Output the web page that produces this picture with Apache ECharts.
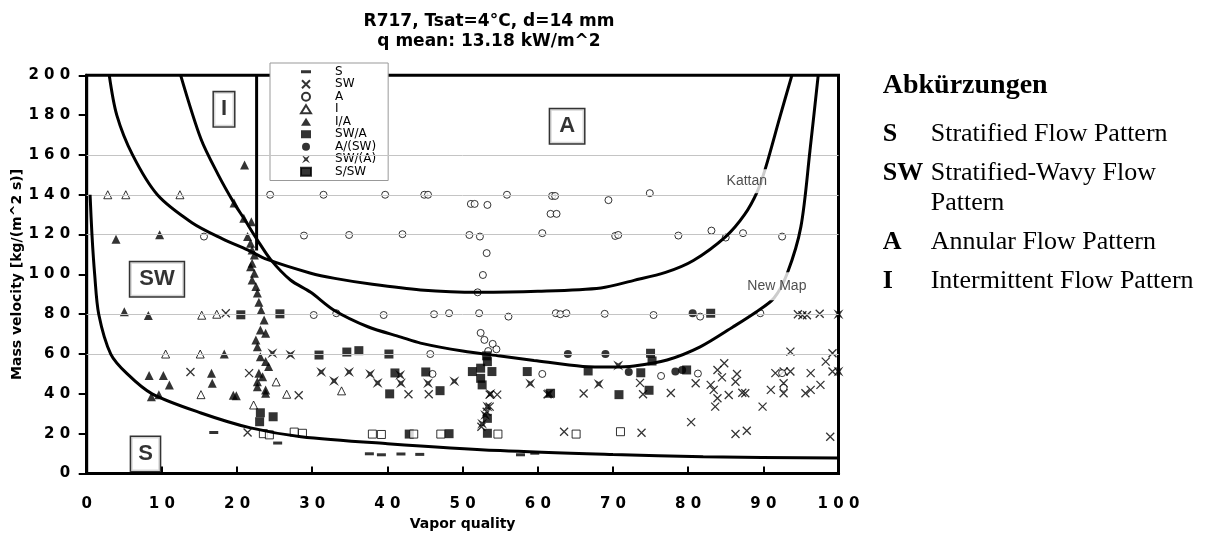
<!DOCTYPE html>
<html><head><meta charset="utf-8">
<script src="https://cdn.jsdelivr.net/npm/echarts@6/dist/echarts.min.js"></script>
<style>html,body{margin:0;padding:0;background:#fff}#c{width:1207px;height:534px}</style>
</head><body><div id="c"></div>
<script>
// ---------- data ----------
const seriesNames = ['S','SW','A','I','I/A','SW/A','A/(SW)','SW/(A)','S/SW'];

const sPts = [[16.9,20.6],[25.4,15.3],[37.6,9.9],[39.2,9.4],[41.8,9.8],[44.3,9.6],[57.7,9.4],[59.6,10.2]];

const swPts = [[18.5,80.5],[13.8,51],[21.6,50.4],[28.2,39.3],[42.8,39.8],[45.5,39.8],[53.6,39.6],[54.6,39.6],
  [53.6,33.6],[53.2,31],[52.5,23.5],[21.4,20.6],[61.3,39.8],[66.1,40.2],[63.5,21],[73.8,20.5],[74,39.8],
  [73.6,45.5],[77.7,40.4],[80.4,25.8],[81,45.3],[83.9,52],[84.8,55.4],[84.5,48.3],[83,44.5],[83.4,42],
  [83.9,37.8],[83.6,33.6],[85.4,39.4],[86.5,50],[86.3,46.1],[87.2,40.6],[87.6,40.3],[89.9,33.6],[91,42],
  [91.6,50.4],[92.7,51.2],[93.6,51.2],[92.7,45.3],[92.7,40.3],[95.6,40.3],[96.3,42],[96.3,50.4],[97.6,44.5],
  [98.3,56.2],[99.2,60.4],[99.2,51.2],[93.6,61.2],[86.3,19.8],[87.8,21.5],[98.9,18.5],[94.6,80],[95.2,79.5],
  [95.8,79.5],[97.5,80.2]];

const aPts = [[24.4,140],[31.5,140],[39.7,140],[44.9,140],[45.4,140],[55.9,140],[61.9,139.4],[62.3,139.4],
  [74.9,140.8],[69.4,137.3],[51.1,135.4],[51.6,135.4],[53.3,134.9],[61.7,130.4],[62.5,130.4],
  [15.6,119],[28.9,119.5],[34.9,119.8],[42,120.2],[50.9,119.8],[52.3,119],[60.6,120.7],[70.3,119.3],
  [70.7,119.8],[78.7,119.5],[83.1,122],[85,118.5],[87.3,120.7],[92.5,119],[53.2,110.7],[52.7,99.7],[52,91],
  [30.2,79.6],[33.2,80.5],[39.5,79.6],[46.2,80],[48.2,80.5],[52.2,80.5],[56.1,78.8],[62.4,80.5],[63,80],
  [63.8,80.5],[68.9,80.2],[75.4,79.6],[81.6,78.8],[89.6,80.5],
  [52.4,70.6],[52.9,67.1],[54,65.1],[54.5,62.4],[53.4,61.5],
  [45.7,60],[46,50],[60.6,50],[76.4,49],[81.3,50.2],[92.5,50.4],[92.7,43]];

const iPts = [[2.8,140],[5.2,140],[12.4,140],[15.3,79.5],[17.3,80],[10.5,60],[15.1,60],[25.2,46],
  [15.2,39.6],[26.6,39.8],[33.9,41.5],[22.2,34.4]];

const iaPts = [[21.0,155],[3.9,117.7],[9.7,119.9],[5.0,81.3],[8.2,79.3],[18.3,60],[8.3,49.2],[10.2,49.2],
  [11,44.5],[16.6,50.4],[16.7,45.3],[8.6,38.6],[9.6,39.6],[19.5,39.3],[19.9,39],[23.8,40.3],
  [19.6,135.8],[20.9,128.2],[21.9,126.5],[21.4,119],[21.8,115.7],[22.0,112.3],[22.3,109.8],[22.0,105.6],
  [21.8,103.9],[22.3,100.6],[22.0,97.2],[22.5,93.9],[22.7,90.6],[22.9,86],[23.2,82],[23.6,77.1],[23.1,72.1],
  [23.8,70.5],[22.5,67.1],[22.7,63.7],[23.1,58.7],[23.8,56.2],[24.2,53.7],[22.9,50.4],[23.4,48.6],[22.7,46.1],
  [22.7,43.6],[23.8,42]];

const swaPts = [[20.5,79.7],[25.7,80.2],[30.9,59.5],[34.6,61],[36.2,61.7],[40.2,60],[40.3,40],[23.1,30.5],
  [24.8,28.5],[23,26],[41,50.5],[45.1,51],[47,41.6],[51.3,51.2],[52.4,52.9],[53.9,51.2],[52.4,47.8],[52.6,44.5],
  [53.3,56.2],[53.2,59.1],[53.3,27.7],[53.3,20.2],[42.9,19.8],[48.2,20],[58.6,51.2],[61.7,40.3],[66.7,51.5],
  [70.8,39.6],[75,60.4],[75.2,56.5],[73.7,50.6],[74.8,41.8],[79.8,52],[83,80.5]];

const aswPts = [[64,60],[69,60],[72.1,51],[78.3,51.2],[79.2,52],[80.6,80.5]];

const swaBowPts = [[24.7,60.4],[27.1,59.7],[31.2,51],[32.9,46.5],[34.9,51],[37.7,50],[38.7,45.5],[41.7,49.5],
  [41.8,45.3],[45.4,45.3],[48.9,46.3],[59,45.2],[61.5,40],[68.1,45],[70.7,54.3],[100,80],[100,51.2],
  [53.7,40],[53.3,33.6],[52.6,25],[53,29.4]];

const sswPts = [[23.5,20],[24.3,19.4],[27.6,20.8],[28.7,20.2],[38,19.8],[39.2,19.6],[43.5,19.8],[47.1,19.8],
  [54.7,19.8],[65.1,19.8],[71.0,21]];

// transition curves
const stratCurve = [[0.45,140],[0.7,120],[1.06,100],[1.6,80],[3.2,60],[5.4,50],[8.7,40],[15.2,30.4],[21.8,22.9],
  [28.5,18.5],[40,15],[55,11.5],[70,9.5],[82,8.4],[100,7.8]];
const kattanCurve = [[3.0,200],[4.0,180],[6.1,160],[9.4,140],[14,126],[18,118],[21.4,112.3],[24,107.5],
  [29.8,100.6],[33,98],[38,95],[44.4,92.2],[52,91],[60,91.5],[68.4,93.2],[72.8,97],[77,101],[80.7,107],
  [85,119],[87.5,130],[89.2,141.6],[90.3,153.5],[92.2,179],[93.8,200]];
const newMapCurve = [[12.5,200],[15.2,168],[17.5,150],[19.6,135.8],[20.9,128.2],[22.7,117.3],[24.5,107.3],
  [27.1,97.2],[29.8,91],[32.9,82],[37.4,73.7],[41.8,68.5],[44.4,65.5],[50,61.5],[55,59],[59.5,56.8],[66,53.8],
  [70,53.5],[72.8,54],[77.2,57],[81.6,63.6],[86,73.7],[89,81],[91.4,88],[93.2,100.7],[95,124],[96.2,162],[97.3,200]];
const iaTransition = [[22.6,200],[22.6,112]];

const gridValues = [60,80,120,140,160];
const xTickValues = [0,10,20,30,40,50,60,70,80,90,100];
const yTickValues = [0,20,40,60,80,100,120,140,160,180,200];

const abbrevKeys = ['S','SW','','A','I'];
const abbrevTexts = ['Stratified Flow Pattern','Stratified-Wavy Flow','Pattern','Annular Flow Pattern','Intermittent Flow Pattern'];

// ---------- chart ----------
const XPATH = 'path://M0,0L10,10M10,0L0,10';
const BOW = 'path://M0,0L5,3.2L10,0L6.8,5L10,10L5,6.8L0,10L3.2,5Z';
const DASH = 'path://M0,0H10V3H0Z';
const spaced = v => String(v).split('').join(' ');
const labelFont = {fontFamily:'DejaVu Sans', fontWeight:'bold', fontSize:15, color:'#000'};

function pts(name, data, symbol, size, filled, extra) {
  return Object.assign({
    name, type:'scatter', data, symbol, symbolSize:size, z:4,
    itemStyle: filled ? {color:'#000', borderColor:'#000', borderWidth:0}
                      : {color:'#fff', borderColor:'#000', borderWidth:1}
  }, extra || {});
}
function curve(data, smooth) {
  return {type:'line', data, smooth: smooth, symbol:'none', z:5, silent:true,
    lineStyle:{color:'#000', width:3}};
}

const rowY = [133.9,172.9,202.9,241.9,281.2];
const chart = echarts.init(document.getElementById('c'), null, {renderer:'canvas'});
chart.setOption({
  animation:false,
  backgroundColor:'#fff',
  title:{
    text:'R717, Tsat=4°C, d=14 mm\nq mean: 13.18 kW/m^2',
    left:484, top:7, textAlign:'center',
    textStyle:{fontFamily:'DejaVu Sans', fontWeight:'bold', fontSize:17, lineHeight:20, color:'#000'}
  },
  grid:{left:86.7, right:368.5, top:75.3, bottom:60.5, containLabel:false, outerBoundsMode:'none',
    show:true, borderColor:'#000', borderWidth:3, backgroundColor:'transparent'},
  legend:{
    data:[
      {name:'S', icon:DASH},
      {name:'SW', icon:XPATH},
      {name:'A'},{name:'I'},{name:'I/A'},{name:'SW/A'},{name:'A/(SW)'},{name:'SW/(A)'},
      {name:'S/SW', itemStyle:{color:'#000'}}
    ],
    orient:'vertical', left:270, top:63,
    padding:[2.5,12,2.5,30], itemWidth:10, itemHeight:8, itemGap:0,
    backgroundColor:'#fff', borderColor:'#999', borderWidth:1, selectedMode:false,
    textStyle:{fontFamily:'DejaVu Sans', fontSize:12, lineHeight:12.5, color:'#000'},
    formatter: n => '     ' + n
  },
  xAxis:{
    type:'value', min:0, max:100, interval:10,
    name:'Vapor quality', nameLocation:'middle', nameGap:44, nameMoveOverlap:false,
    nameTextStyle:{fontFamily:'DejaVu Sans', fontWeight:'bold', fontSize:14, color:'#000'},
    axisLine:{show:true, onZero:false, lineStyle:{color:'#000', width:3}},
    axisTick:{show:true, inside:true, length:7, lineStyle:{color:'#000', width:2}},
    axisLabel:Object.assign({margin:23, formatter:v => xTickValues.includes(v) ? spaced(v) : ''}, labelFont),
    splitLine:{show:false}
  },
  yAxis:{
    type:'value', min:0, max:200, interval:20,
    name:'Mass velocity [kg/(m^2 s)]', nameLocation:'middle', nameGap:62, nameMoveOverlap:false,
    nameTextStyle:{fontFamily:'DejaVu Sans', fontWeight:'bold', fontSize:14, color:'#000'},
    axisLine:{show:true, onZero:false, lineStyle:{color:'#000', width:3}},
    axisTick:{show:true, inside:false, length:8, lineStyle:{color:'#000', width:2}},
    axisLabel:Object.assign({margin:16.5, formatter:v => yTickValues.includes(v) ? spaced(v) : ''}, labelFont),
    splitLine:{show:false}
  },
  graphic:[
    {type:'text', x:882.7, y:85.5, style:{text:'Abkürzungen', font:'bold 28px "Liberation Serif"', fill:'#000', verticalAlign:'middle'}},
    ...abbrevTexts.map((t,i) => ({type:'text', x:930.7, y:rowY[i],
      style:{text:t, font:'26px "Liberation Serif"', fill:'#000', verticalAlign:'middle'}})),
    ...abbrevKeys.map((k,i) => ({type:'text', x:882.7, y:rowY[i],
      style:{text:k, font:'bold 26px "Liberation Serif"', fill:'#000', verticalAlign:'middle'}}))
  ],
  series:[
    {type:'scatter', data:[], silent:true, z:1,
      markLine:{silent:true, symbol:['none','none'], label:{show:false}, animation:false,
        lineStyle:{color:'#c4c4c4', width:1, type:'solid'},
        data: gridValues.map(v => ({yAxis:v}))}},
    curve(stratCurve, 0.3),
    curve(kattanCurve, 0.3),
    curve(newMapCurve, 0.3),
    curve(iaTransition, false),
    pts('S', sPts, 'rect', [9,3], true),
    pts('SW', swPts, XPATH, 8, false, {itemStyle:{color:'rgba(0,0,0,0)', borderColor:'#000', borderWidth:1.3}}),
    pts('A', aPts, 'circle', 7, false),
    pts('I', iPts, 'triangle', 8, false),
    pts('I/A', iaPts, 'triangle', 9, true),
    pts('SW/A', swaPts, 'rect', 9, true),
    pts('A/(SW)', aswPts, 'circle', 8, true),
    pts('SW/(A)', swaBowPts, BOW, 10, true),
    pts('S/SW', sswPts, 'rect', 8, false),
    {type:'scatter', silent:true, z:8, symbolSize:1, itemStyle:{color:'rgba(0,0,0,0)'},
      label:{show:true, position:'inside', formatter:'{b}', color:'#000', backgroundColor:'#fff',
        borderColor:'#000', borderWidth:1.5, fontFamily:'Liberation Sans', fontWeight:'bold', fontSize:22, lineHeight:24},
      data:[
        {name:'I', value:[18.26,182.9], label:{padding:[5,7]}},
        {name:'A', value:[63.9,174.4], label:{padding:[5,9]}},
        {name:'SW', value:[9.35,97.6], label:{padding:[5,9]}},
        {name:'S', value:[7.82,9.8], label:{padding:[5,7]}}
      ]},
    {type:'scatter', silent:true, z:8, symbolSize:1, itemStyle:{color:'rgba(0,0,0,0)'},
      label:{show:true, position:'inside', formatter:'{b}', color:'#222', backgroundColor:'#fff',
        fontFamily:'Liberation Sans', fontSize:14, padding:[5,2]},
      data:[
        {name:'Kattan', value:[87.8,146.8]},
        {name:'New Map', value:[91.8,94.1], label:{padding:[7,2]}}
      ]}
  ]
});
</script>
</body></html>
